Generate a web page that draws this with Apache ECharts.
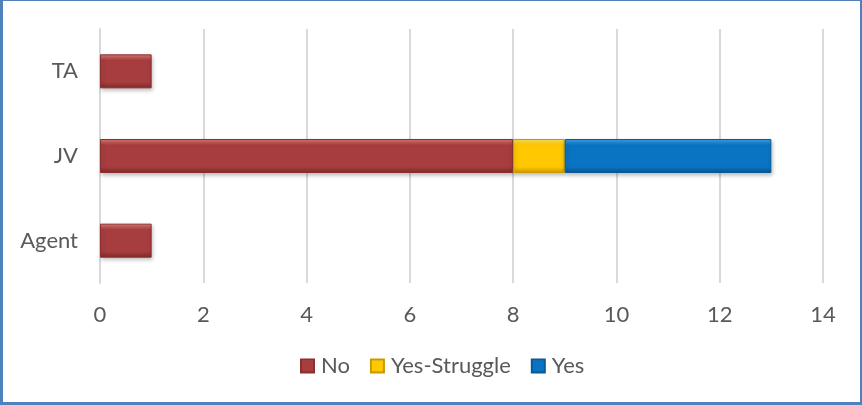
<!DOCTYPE html>
<html>
<head>
<meta charset="utf-8">
<script src="https://cdn.jsdelivr.net/npm/echarts@6/dist/echarts.min.js"></script>
<style>
  html, body { margin: 0; padding: 0; background: #fff; }
  #frame { position: absolute; left: 0; top: 0; width: 857px; height: 401px;
           border-left: 3px solid #4F81BD; border-top: 1px solid #4F81BD;
           border-right: 2px solid #4F81BD; border-bottom: 3px solid #4F81BD; }
  #chart { width: 857px; height: 401px; }
</style>
</head>
<body>
<div id="frame"><div id="chart"></div></div>
<script>
const categories = ['Agent', 'JV', 'TA'];
const noValues = [1, 8, 1];
const struggleValues = [0, 1, 0];
const yesValues = [0, 4, 0];
const xTicks = { min: 0, max: 14, interval: 2 };

function bevel(light, mid, dark) {
  return new echarts.graphic.LinearGradient(0, 0, 0, 1, [
    { offset: 0, color: light },
    { offset: 0.18, color: mid },
    { offset: 0.82, color: mid },
    { offset: 1, color: dark }
  ]);
}

const styles = {
  no: { color: bevel('#E27A7A', '#A73D3E', '#7E2A2B'), borderColor: '#8A3031' },
  struggle: { color: bevel('#FFE45A', '#FFC800', '#C99A00'), borderColor: '#C89A00' },
  yes: { color: bevel('#3FA6EC', '#0A74C4', '#08528C'), borderColor: '#0A5A96' }
};

function barSeries(name, data, st) {
  return {
    name: name,
    type: 'bar',
    stack: 'total',
    barWidth: 34,
    data: data.map(v => v === 0 ? null : v),
    itemStyle: {
      color: st.color,
      borderColor: st.borderColor,
      borderWidth: 1,
      shadowColor: 'rgba(0,0,0,0.25)',
      shadowBlur: 4,
      shadowOffsetY: 2,
      shadowOffsetX: 1
    }
  };
}

const chart = echarts.init(document.getElementById('chart'));
chart.setOption({
  animation: false,
  textStyle: { fontFamily: 'Lato, "Liberation Sans", sans-serif' },
  grid: { left: 97, right: 37, top: 28, bottom: 119, containLabel: false },
  legend: {
    bottom: 20,
    left: 292,
    itemWidth: 13,
    itemHeight: 13,
    itemGap: 20,
    icon: 'rect',
    textStyle: { color: '#595959', fontSize: 22, fontFamily: 'Lato, sans-serif', padding: [0, 0, 0, 2] },
    data: ['No', 'Yes-Struggle', 'Yes']
  },
  xAxis: {
    type: 'value',
    min: xTicks.min,
    max: xTicks.max,
    interval: xTicks.interval,
    axisLine: { show: false },
    axisTick: { show: false },
    axisLabel: { color: '#595959', fontSize: 22, margin: 21 },
    splitLine: { show: true, lineStyle: { color: '#D9D9D9', width: 2 } }
  },
  yAxis: {
    type: 'category',
    data: categories,
    axisLine: { show: true, lineStyle: { color: '#D9D9D9', width: 2 } },
    axisTick: { show: false },
    axisLabel: { color: '#595959', fontSize: 22, margin: 22 }
  },
  series: [
    barSeries('No', noValues, styles.no),
    barSeries('Yes-Struggle', struggleValues, styles.struggle),
    barSeries('Yes', yesValues, styles.yes)
  ]
});
</script>
</body>
</html>
